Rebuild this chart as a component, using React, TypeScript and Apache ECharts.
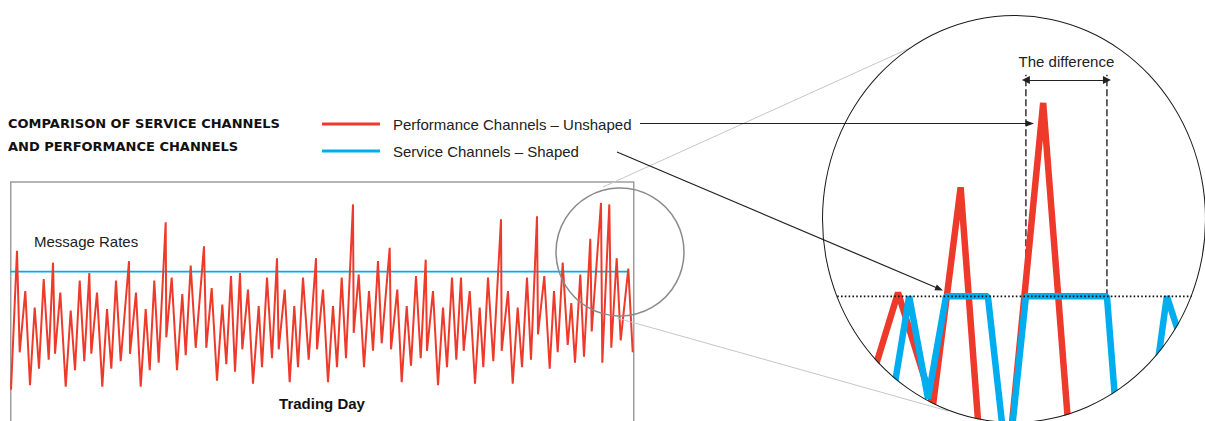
import React, { useEffect, useRef } from "react";
import * as echarts from "echarts";

// ---- Main chart: message rates over a trading day ----
const tradingTime = [
  0, 6, 8.7, 14.3, 19, 23.7, 28, 32.7, 37.7, 42,
  44, 49.3, 54.7, 59.7, 64, 68.7, 73.3, 78.3, 80.3, 86,
  91.3, 96, 100.3, 105, 109.7, 118, 119, 125, 129.7, 134.7,
  138.7, 143.3, 147.7, 154.7, 155.3, 160.7, 166, 171.3, 174.7, 179.7,
  184.7, 193, 195.3, 200.7, 206, 211.3, 215.3, 220, 224, 229,
  231.3, 237, 242, 247.7, 251, 256, 261, 266, 267.7, 273.7,
  278.7, 283.3, 287, 292, 297.7, 305, 306, 312, 317, 322,
  326, 330.7, 335, 342, 342.7, 347.7, 353, 358, 362, 367,
  370.7, 378.7, 380, 386.3, 390.7, 395.7, 400, 405, 409.7, 414.7,
  416, 422, 427, 432, 436, 441, 445.3, 450, 452.7, 458.7,
  464, 468.7, 472.3, 477, 482.3, 490, 490.7, 497, 501.7, 506.7,
  511, 516, 520, 526, 527, 533.3, 538.7, 543, 546.7, 551.7,
  556.7, 560.3, 564, 569.3, 573, 579.3, 580.7, 590, 591.3, 598.3,
  600.3, 605.7, 609.7, 617.3, 621.7,
];
const performanceRates = [
  21, 114, 46, 87, 24, 76, 35, 95, 41, 106,
  45, 86, 23, 74, 34, 94, 40, 99, 45, 86,
  23, 75, 35, 94, 40, 107, 45, 86, 23, 75,
  34, 94, 39, 133, 56, 96, 34, 85, 44, 104,
  49, 117, 49, 89, 27, 78, 38, 97, 33, 99,
  48, 88, 25, 77, 36, 96, 42, 109, 48, 88,
  26, 77, 36, 96, 41, 109, 48, 88, 26, 77,
  36, 96, 42, 145, 59, 98, 36, 87, 47, 107,
  52, 116, 48, 88, 26, 77, 37, 97, 42, 108,
  47, 87, 24, 76, 36, 96, 41, 96, 47, 87,
  25, 76, 36, 96, 40, 135, 47, 87, 25, 76,
  36, 96, 41, 137, 58, 97, 35, 87, 46, 106,
  51, 79, 39, 98, 43, 122, 60, 146, 39, 145,
  49, 109, 54, 102, 46,
];
const serviceRate = 100;
const serviceSpan = [-3, 617];

// ---- Magnified view ----
const zoomTimePerf = [8.6, 19.8, 28.9, 36.1, 44.5, 57.6, 68.5, 75, 81.5, 90.6, 102.3];
const zoomPerf = [61, 101, 69, 131, 8, 155, 2, 36, 2, 36, 3];
const zoomTimeServ = [16.1, 22.7, 27.6, 32.3, 43.2, 48.3, 53.1, 74.2, 79.9, 89.8, 102.3];
const zoomServ = [56, 100, 71, 100, 100, 50, 100, 100, 21, 100, 58];
const zoomCap = 100;
const zoomCapSpan = [0, 100];
const differenceWindow = [53.1, 74.2];
const guideTop = 163;
const differenceLevel = 161.5;

// ---- Text ----
const titleLines = ["COMPARISON OF SERVICE CHANNELS", "AND PERFORMANCE CHANNELS"];
const legendNames = ["Performance Channels \u2013 Unshaped", "Service Channels \u2013 Shaped"];
const yLabel = "Message Rates";
const xLabel = "Trading Day";
const differenceLabel = "The difference";

const RED = "#ee3a2a";
const BLUE = "#00aeef";
const INK = "#222222";
const SANS = '"Liberation Sans", Arial, sans-serif';

export default function App() {
  const mainRef = useRef<HTMLDivElement>(null);
  const zoomRef = useRef<HTMLDivElement>(null);

  useEffect(() => {
    const main = echarts.init(mainRef.current as HTMLDivElement, null, { renderer: "svg" });
    const zoom = echarts.init(zoomRef.current as HTMLDivElement, null, { renderer: "svg" });

    const arrow2Tip = [943, 290.5];
    const mainOption: any = {
      animation: false,
      grid: { left: 11, top: 182, right: 572, bottom: 0, show: false },
      xAxis: { type: "value", min: 0, max: 622, show: false },
      yAxis: { type: "value", min: 0, max: 160, show: false },
      series: [
        {
          type: "line", name: legendNames[1], silent: true, clip: false,
          data: serviceSpan.map((t) => [t, serviceRate]),
          symbol: "none", z: 2,
          lineStyle: { color: BLUE, width: 1.8 },
        },
        {
          type: "line", name: legendNames[0], silent: true,
          data: tradingTime.map((t, i) => [t, performanceRates[i]]),
          symbol: "none", z: 3,
          lineStyle: { color: RED, width: 2 },
        },
      ],
      graphic: [
        {
          type: "rect", z: 1, silent: true,
          shape: { x: 10.75, y: 182, width: 623, height: 250 },
          style: { fill: "none", stroke: "#9d9d9d", lineWidth: 1.5 },
        },
        ...titleLines.map((t, i) => ({
          type: "text", x: 8, y: 123 + i * 23, z: 10,
          style: { text: t, font: 'bold 13px "DejaVu Sans", sans-serif', fill: "#111", textVerticalAlign: "middle" },
        })),
        ...legendNames.map((t, i) => ({
          type: "line", z: 10,
          shape: { x1: 322, y1: 124 + i * 27, x2: 380, y2: 124 + i * 27 },
          style: { stroke: i === 0 ? RED : BLUE, lineWidth: 3 },
        })),
        ...legendNames.map((t, i) => ({
          type: "text", x: 393, y: 124 + i * 27, z: 10,
          style: { text: t, font: `15px ${SANS}`, fill: INK, textVerticalAlign: "middle" },
        })),
        {
          type: "text", x: 34, y: 241, z: 10,
          style: { text: yLabel, font: `15px ${SANS}`, fill: INK, textVerticalAlign: "middle" },
        },
        {
          type: "text", x: 322, y: 403, z: 10,
          style: { text: xLabel, font: `bold 15px ${SANS}`, fill: "#111", textAlign: "center", textVerticalAlign: "middle" },
        },
        // magnifier on the small chart
        {
          type: "circle", z: 20, silent: true,
          shape: { cx: 620, cy: 252, r: 64 },
          style: { fill: "none", stroke: "#8a8a8a", lineWidth: 1.5 },
        },
        {
          type: "line", z: 5,
          shape: { x1: 603, y1: 187, x2: 910, y2: 48 },
          style: { stroke: "#c6c6c6", lineWidth: 1 },
        },
        {
          type: "line", z: 5,
          shape: { x1: 617, y1: 318, x2: 948, y2: 411 },
          style: { stroke: "#c6c6c6", lineWidth: 1 },
        },
        // pointer arrows
        {
          type: "line", z: 10,
          shape: { x1: 640, y1: 123.5, x2: 1027, y2: 123.5 },
          style: { stroke: INK, lineWidth: 1.2 },
        },
        {
          type: "polygon", z: 10,
          shape: { points: [[1034, 123.5], [1026, 120.5], [1026, 126.5]] },
          style: { fill: INK },
        },
        {
          type: "line", z: 10,
          shape: { x1: 617, y1: 152, x2: 936, y2: 287.5 },
          style: { stroke: INK, lineWidth: 1.2 },
        },
        {
          type: "polygon", z: 10,
          shape: { points: [arrow2Tip, [934.4, 290.2], [936.8, 284.6]] },
          style: { fill: INK },
        },
      ],
    };

    const guide = (t: number, withArrow: boolean) => ({
      type: "line", silent: true, z: 1,
      data: [[t, zoomCap], [t, guideTop]],
      symbol: "none",
      lineStyle: { color: INK, width: 1.4, type: [7, 3] },
      markLine: withArrow
        ? {
            silent: true,
            symbol: ["triangle", "triangle"],
            symbolSize: 8,
            lineStyle: { color: INK, width: 1.2, type: "solid" },
            label: {
              show: true, position: "middle", formatter: differenceLabel,
              color: INK, fontSize: 15, fontFamily: SANS, distance: 11,
            },
            data: [[
              { coord: [differenceWindow[0], differenceLevel] },
              { coord: [differenceWindow[1], differenceLevel] },
            ]],
          }
        : undefined,
    });

    const zoomOption: any = {
      animation: false,
      grid: { left: 0, right: 0, top: 0, bottom: 0 },
      xAxis: { type: "value", min: 0, max: 100, show: false },
      yAxis: { type: "value", min: 0, max: 180, show: false },
      series: [
        guide(differenceWindow[0], true),
        guide(differenceWindow[1], false),
        {
          type: "line", silent: true, z: 2,
          data: zoomTimePerf.map((t, i) => [t, zoomPerf[i]]),
          symbol: "none",
          lineStyle: { color: RED, width: 6.5, join: "bevel", cap: "butt" },
        },
        {
          type: "line", silent: true, z: 3,
          data: zoomTimeServ.map((t, i) => [t, zoomServ[i]]),
          symbol: "none",
          lineStyle: { color: BLUE, width: 6.5, join: "bevel", cap: "butt" },
        },
        {
          type: "line", silent: true, z: 4,
          data: zoomCapSpan.map((t) => [t, zoomCap]),
          symbol: "none",
          lineStyle: { color: "#111", width: 1.6, type: [1.6, 2.2] },
        },
      ],
    };

    main.setOption(mainOption);
    zoom.setOption(zoomOption);
    return () => {
      main.dispose();
      zoom.dispose();
    };
  }, []);

  return (
    <div style={{ position: "absolute", left: 0, top: 0, width: 1205, height: 421, overflow: "hidden", background: "#fff" }}>
      <div ref={mainRef} style={{ position: "absolute", left: 0, top: 0, width: 1205, height: 421 }} />
      <div style={{ position: "absolute", left: 822, top: 15, width: 384, height: 408, borderRadius: "50%", overflow: "hidden" }}>
        <div ref={zoomRef} style={{ position: "absolute", left: 0, top: 0, width: 384, height: 633 }} />
      </div>
      <div
        style={{
          position: "absolute", left: 822, top: 15, width: 384, height: 408,
          borderRadius: "50%", border: "1.2px solid #1a1a1a", boxSizing: "border-box", pointerEvents: "none",
        }}
      />
    </div>
  );
}
